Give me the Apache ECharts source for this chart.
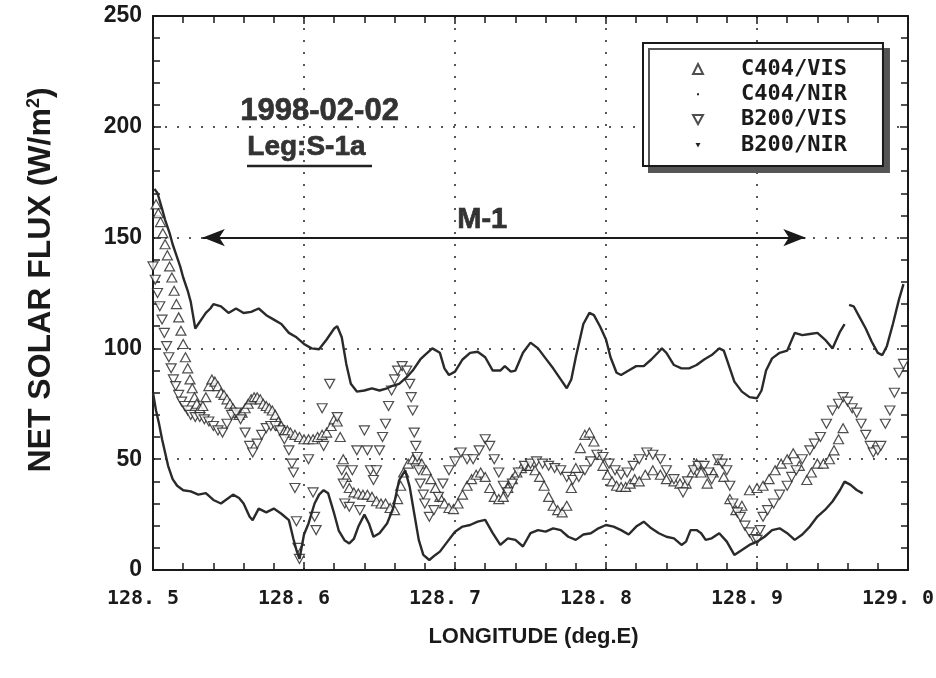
<!DOCTYPE html>
<html><head><meta charset="utf-8">
<script src="https://cdn.jsdelivr.net/npm/echarts@6/dist/echarts.min.js"></script>
<style>html,body{margin:0;padding:0;background:#fff;overflow:hidden}#c{width:936px;height:678px}</style>
</head><body><div id="c"></div>
<script>
// ---- data (longitude deg.E, net solar flux W/m2) ----
const seriesNames = ['C404/VIS', 'C404/NIR', 'B200/VIS', 'B200/NIR'];
const xTickLabels = ['128. 5', '128. 6', '128. 7', '128. 8', '128. 9', '129. 0'];
const yTickLabels = ['0', '50', '100', '150', '200', '250'];
const annotDate = '1998-02-02';
const annotLeg = 'Leg:S-1a';
const annotRange = 'M-1';
const rangeLon = [128.533, 128.932];
const rangeVal = 150;

const c404Vis = [[128.502,165],[128.5035,161],[128.505,157],[128.5065,152],[128.508,147],[128.5095,142],[128.511,137],[128.5125,132],[128.514,126],[128.5155,120],[128.517,114],[128.5185,108],[128.52,102],[128.5215,96],[128.523,91],[128.5245,86],[128.526,82],[128.5275,78],[128.529,75],[128.531,73],[128.533,74],[128.535,78],[128.537,83],[128.539,86],[128.541,85],[128.543,83],[128.545,80],[128.547,79],[128.549,77],[128.551,75],[128.553,73],[128.555,71],[128.557,70],[128.559,71],[128.561,73],[128.563,75],[128.565,77],[128.567,78],[128.569,78],[128.571,77],[128.573,75],[128.575,74],[128.577,73],[128.579,72],[128.581,70],[128.583,67],[128.585,65],[128.587,63],[128.589,63],[128.591,62],[128.594,61],[128.597,60],[128.60,59],[128.603,59],[128.606,59],[128.609,60],[128.612,61],[128.615,62],[128.618,65],[128.62,68],[128.622,67],[128.624,60],[128.626,50],[128.628,42],[128.63,37],[128.633,35],[128.636,34.5],[128.639,34],[128.642,34],[128.645,33],[128.648,31],[128.651,30],[128.654,30],[128.657,28],[128.66,27],[128.662,32],[128.664,38],[128.666,44],[128.669,48],[128.672,50],[128.675,50],[128.678,48],[128.681,45],[128.684,41],[128.687,37],[128.69,33],[128.693,30],[128.696,28],[128.699,27.5],[128.702,30],[128.705,34],[128.708,38],[128.711,41],[128.714,43],[128.717,44],[128.72,42],[128.723,37],[128.726,33],[128.729,32],[128.732,33],[128.735,37],[128.738,41],[128.741,44],[128.744,46],[128.747,47],[128.75,47],[128.753,45],[128.756,42],[128.759,38],[128.762,33],[128.765,29],[128.768,27],[128.771,26],[128.774,29],[128.777,37],[128.78,46],[128.783,55],[128.786,61],[128.789,62],[128.792,58],[128.795,52],[128.798,47],[128.801,43],[128.804,40],[128.807,38],[128.81,37.5],[128.813,37.5],[128.816,39],[128.819,41],[128.822,40],[128.826,43],[128.831,45],[128.836,43],[128.84,41],[128.845,40],[128.849,39],[128.853,39],[128.857,44],[128.86,48],[128.863,44],[128.867,39],[128.871,44],[128.875,49.6],[128.878,42],[128.882,32],[128.886,27],[128.89,29],[128.895,36],[128.9,37],[128.904,38],[128.908,41],[128.912,45],[128.916,48],[128.92,50],[128.924,52.7],[128.928,47],[128.933,40.6],[128.936,44],[128.94,48],[128.944,48],[128.948,50],[128.951,54],[128.954,59],[128.957,64]];

const c404Nir = [[128.501,172],[128.503,170],[128.506,163],[128.508,158],[128.511,152],[128.513,147],[128.515,143],[128.518,137],[128.52,132],[128.523,126],[128.525,121],[128.528,109],[128.530,111],[128.533,114],[128.535,116],[128.538,118],[128.54,120],[128.545,119],[128.55,116],[128.555,118],[128.56,116],[128.565,116.5],[128.57,118],[128.575,115],[128.58,113],[128.585,111],[128.59,107],[128.595,105],[128.6,102],[128.605,100],[128.61,99.6],[128.615,104],[128.62,109],[128.622,110],[128.625,105],[128.628,93],[128.631,84],[128.635,80.5],[128.64,81],[128.645,82],[128.65,81],[128.655,82],[128.658,83],[128.663,84],[128.668,87],[128.672,90],[128.677,95],[128.68,97],[128.685,100],[128.69,98],[128.693,91],[128.696,88],[128.70,89.5],[128.705,95],[128.71,98],[128.715,98.5],[128.72,96],[128.725,90],[128.73,90],[128.733,92],[128.737,89.5],[128.74,90],[128.745,98],[128.75,102.6],[128.755,100],[128.76,95.5],[128.765,91],[128.77,86],[128.774,82],[128.777,86],[128.78,96],[128.785,111],[128.789,116],[128.792,115],[128.796,110],[128.80,104],[128.803,96],[128.807,89],[128.81,88],[128.815,90],[128.82,92],[128.825,92],[128.83,95],[128.835,98.5],[128.837,100],[128.84,98],[128.845,92.5],[128.85,91],[128.855,91],[128.86,92.5],[128.865,95],[128.87,97],[128.875,100],[128.878,99],[128.88,95],[128.885,85],[128.89,80.5],[128.895,78],[128.9,77.5],[128.903,81],[128.906,90],[128.91,95.5],[128.915,98],[128.92,99],[128.925,107],[128.93,106],[128.935,106.5],[128.94,107],[128.945,104],[128.95,100],[128.955,107.6],[128.958,111],[128.9595,null],[128.961,119.6],[128.964,119],[128.968,114],[128.972,109],[128.976,103],[128.98,98],[128.983,97],[128.986,101],[128.99,111],[128.994,122],[128.997,129]];

const b200Vis = [[128.500,137],[128.5015,131],[128.503,125],[128.5045,119],[128.506,113],[128.5075,107],[128.509,101],[128.5105,96],[128.512,91],[128.5135,86],[128.515,83],[128.517,79],[128.519,76],[128.521,74],[128.523,72],[128.525,70],[128.528,69],[128.531,69],[128.534,68],[128.537,67],[128.54,65],[128.543,63],[128.546,62],[128.549,66],[128.552,70],[128.555,71],[128.558,68],[128.561,62],[128.564,56],[128.566,53],[128.569,57],[128.572,61],[128.575,64],[128.578,65],[128.581,65],[128.584,63],[128.587,59],[128.59,54],[128.592,48],[128.593,44],[128.594,37],[128.595,22],[128.596,10],[128.597,5],[128.603,50],[128.606,35],[128.607,24],[128.608,18],[128.612,73],[128.613,56],[128.617,84],[128.622,69],[128.625,45],[128.626,39],[128.627,30],[128.63,28.5],[128.632,45],[128.635,54],[128.637,27],[128.64,63],[128.642,54],[128.644,45],[128.646,40.6],[128.648,45],[128.65,54],[128.652,60],[128.654,66],[128.656,74],[128.658,81],[128.66,86],[128.662,90],[128.665,92],[128.668,90],[128.67,84],[128.671,78],[128.672,72],[128.673,62],[128.674,56],[128.675,51],[128.676,45],[128.677,39],[128.679,34],[128.68,30],[128.683,24],[128.686,27],[128.689,33],[128.692,39],[128.696,45],[128.70,49],[128.704,53],[128.708,50],[128.712,50],[128.716,54],[128.72,59],[128.723,56],[128.726,50],[128.729,44],[128.732,38],[128.735,35],[128.738,39],[128.742,44],[128.746,47],[128.75,48],[128.754,49],[128.758,48],[128.762,47],[128.766,46],[128.77,45],[128.774,42],[128.778,40.6],[128.782,42],[128.786,45],[128.79,49],[128.794,52],[128.798,51],[128.802,48],[128.806,45],[128.81,43],[128.814,44],[128.818,47],[128.822,50],[128.827,53],[128.831,52],[128.836,50],[128.84,45],[128.845,41],[128.851,35],[128.854,40],[128.858,45],[128.861,47],[128.865,47],[128.868,44],[128.87,41],[128.874,50],[128.877,48],[128.88,45],[128.882,38],[128.884,30],[128.887,26],[128.889,24],[128.892,20],[128.895,17],[128.898,14],[128.90,13.6],[128.902,18],[128.904,24],[128.907,27],[128.911,30],[128.915,34],[128.92,38],[128.923,42],[128.926,45],[128.93,50],[128.935,54],[128.938,57],[128.942,60],[128.946,66],[128.95,72],[128.954,75],[128.957,78],[128.96,76],[128.963,73],[128.966,71],[128.969,66],[128.972,61],[128.975,56],[128.977,53],[128.98,54],[128.982,56],[128.985,66],[128.988,72],[128.991,80],[128.994,89],[128.997,93]];

const b200Nir = [[128.5,80],[128.502,72],[128.504,66],[128.506,59],[128.508,53],[128.51,47],[128.513,41],[128.516,38],[128.52,36],[128.525,35.5],[128.53,34],[128.535,34.7],[128.54,31.6],[128.545,30],[128.55,32.5],[128.553,34],[128.557,32.5],[128.56,30],[128.564,24],[128.566,22.5],[128.57,27.7],[128.575,26],[128.58,27.7],[128.585,25.4],[128.59,22.5],[128.593,14],[128.595,9],[128.597,5],[128.6,16],[128.603,21],[128.607,30],[128.61,34],[128.613,36],[128.616,34.6],[128.62,25.4],[128.623,17.8],[128.627,13.3],[128.63,12],[128.633,14],[128.636,19.6],[128.64,25],[128.643,21],[128.646,15],[128.65,16.6],[128.655,21],[128.659,27.7],[128.663,40.5],[128.667,45],[128.67,37.5],[128.673,25.5],[128.676,13.6],[128.679,6.8],[128.683,4.5],[128.687,6.8],[128.69,8.3],[128.695,12.8],[128.70,17.3],[128.705,19.6],[128.71,20.3],[128.715,21.8],[128.72,22.6],[128.725,16.6],[128.73,11.3],[128.735,14.3],[128.74,13.6],[128.745,10.6],[128.75,16.6],[128.755,18],[128.76,17.3],[128.765,18.8],[128.77,18],[128.775,15],[128.78,13.6],[128.785,16],[128.79,16.6],[128.795,18.8],[128.80,20.3],[128.805,19.6],[128.81,18],[128.815,16],[128.82,19.6],[128.825,21.8],[128.83,18.8],[128.835,16.6],[128.84,15],[128.845,14.3],[128.85,11.3],[128.853,12.8],[128.856,18],[128.86,18],[128.863,16.6],[128.866,13.6],[128.87,14.3],[128.875,16.6],[128.88,12.8],[128.885,6.8],[128.89,9],[128.895,11.3],[128.90,12.8],[128.905,15],[128.91,18],[128.915,18.8],[128.92,16.6],[128.925,13.6],[128.93,16],[128.935,19.6],[128.94,24.1],[128.945,27.1],[128.95,30.9],[128.955,36.1],[128.958,39.9],[128.962,38.4],[128.966,36.1],[128.97,34.6]];

// ---- chart ----
const ink = '#1a1a1a';
const chart = echarts.init(document.getElementById('c'), null, {renderer: 'canvas', width: 936, height: 678});
const tickLine = {color: ink, width: 1.5};
function xAxisBase(pos) {
  return {
    type: 'value', min: 128.5, max: 129.0, interval: 0.1, position: pos,
    axisLine: {show: true, onZero: false, lineStyle: {color: ink, width: 2}},
    axisTick: {show: true, inside: true, length: 8, lineStyle: tickLine},
    minorTick: {show: true, splitNumber: 5, length: 7, lineStyle: tickLine},
    splitLine: {show: false}, axisLabel: {show: false}
  };
}
function yAxisBase(pos) {
  return {
    type: 'value', min: 0, max: 250, interval: 50, position: pos,
    axisLine: {show: true, onZero: false, lineStyle: {color: ink, width: 2}},
    axisTick: {show: true, inside: true, length: 8, lineStyle: tickLine},
    minorTick: {show: true, splitNumber: 5, length: 7, lineStyle: tickLine},
    splitLine: {show: false}, axisLabel: {show: false}
  };
}
const xMain = xAxisBase('bottom');
xMain.splitLine = {show: true, lineStyle: {color: '#222', width: 1.5, type: [2, 10]}};
xMain.axisLabel = {show: true, margin: 19, color: ink, fontFamily: 'DejaVu Sans Mono', fontWeight: 'bold', fontSize: 20,
  padding: [0, 20, 0, 0], formatter: v => xTickLabels[Math.round((v - 128.5) * 10)]};
xMain.name = 'LONGITUDE (deg.E)';
xMain.nameLocation = 'middle';
xMain.nameGap = 56;
xMain.nameTextStyle = {color: ink, fontFamily: 'Liberation Sans', fontWeight: 'bold', fontSize: 22, padding: [0, 0, 0, 6]};
const yMain = yAxisBase('left');
yMain.splitLine = {show: true, lineStyle: {color: '#222', width: 1.5, type: [2, 10]}};
yMain.axisLabel = {show: true, margin: 11, color: ink, fontFamily: 'Liberation Sans', fontWeight: 'bold', fontSize: 23,
  formatter: v => yTickLabels[Math.round(v / 50)]};
yMain.name = 'NET SOLAR FLUX (W/m{sup|2})';
yMain.nameLocation = 'middle';
yMain.nameGap = 96;
yMain.nameTextStyle = {color: ink, fontFamily: 'Liberation Sans', fontWeight: 'bold', fontSize: 32, padding: [0, 0, 0, 26],
  rich: {sup: {fontFamily: 'Liberation Sans', fontWeight: 'bold', fontSize: 18, color: ink, verticalAlign: 'top'}}};

const openStyle = {color: '#fff', borderColor: '#222', borderWidth: 1.2};
const option = {
  animation: false,
  backgroundColor: '#fff',
  grid: {left: 153, right: 28, top: 16, bottom: 108, containLabel: false, outerBoundsMode: 'none'},
  xAxis: [xMain, xAxisBase('top')],
  yAxis: [yMain, yAxisBase('right')],
  legend: {
    orient: 'vertical', left: 643, top: 43, z: 20,
    backgroundColor: '#fff', borderColor: ink, borderWidth: 2,
    shadowColor: '#555', shadowBlur: 0, shadowOffsetX: 6, shadowOffsetY: 6,
    padding: [15, 36, 10, 49], itemWidth: 10, itemHeight: 10, itemGap: 3.3,
    textStyle: {fontFamily: 'DejaVu Sans Mono', fontWeight: 'bold', fontSize: 22, color: ink, lineHeight: 22, padding: [0, 0, 0, 33]},
    data: [
      {name: seriesNames[0], icon: 'triangle'},
      {name: seriesNames[1], icon: 'path://M0,0M10,10M4,4L6,4L6,6L4,6Z'},
      {name: seriesNames[2], icon: 'path://M0,0L10,0L5,9Z'},
      {name: seriesNames[3], icon: 'path://M0,0M10,10M2.5,3L7.5,3L5,7.5Z'}
    ]
  },
  graphic: [
    {type: 'text', left: 240, top: 96, z: 10, style: {text: annotDate, fill: '#333', stroke: '#111', lineWidth: 0.6, font: 'bold 31px "Liberation Sans"'}},
    {type: 'text', left: 247, top: 133, z: 10, style: {text: annotLeg, fill: '#333', stroke: '#111', lineWidth: 0.6, font: 'bold 28px "Liberation Sans"'}},
    {type: 'line', z: 10, shape: {x1: 247, y1: 166, x2: 372, y2: 166}, style: {stroke: '#222', lineWidth: 2.5}},
    {type: 'text', left: 457, top: 205, z: 10, style: {text: annotRange, fill: '#333', stroke: '#111', lineWidth: 0.6, font: 'bold 29px "Liberation Sans"'}}
  ],
  series: [
    {name: seriesNames[0], type: 'scatter', data: c404Vis, symbol: 'triangle', symbolSize: [10, 9], itemStyle: openStyle, z: 3},
    {name: seriesNames[1], type: 'line', data: c404Nir, showSymbol: false, symbol: 'circle', connectNulls: false,
      lineStyle: {color: '#2a2a2a', width: 2.4}, itemStyle: {color: '#222'}, z: 4,
      markLine: {silent: true, symbol: ['arrow', 'arrow'], symbolSize: [13, 22], label: {show: false},
        lineStyle: {color: ink, width: 2, type: 'solid'},
        data: [[{coord: [rangeLon[0], rangeVal]}, {coord: [rangeLon[1], rangeVal]}]]}},
    {name: seriesNames[2], type: 'scatter', data: b200Vis, symbol: 'triangle', symbolRotate: 180, symbolSize: [10, 9], itemStyle: openStyle, z: 3},
    {name: seriesNames[3], type: 'line', data: b200Nir, showSymbol: false, symbol: 'triangle',
      lineStyle: {color: '#2a2a2a', width: 2.4}, itemStyle: {color: '#222'}, z: 4}
  ]
};
chart.setOption(option);
</script>
</body></html>
